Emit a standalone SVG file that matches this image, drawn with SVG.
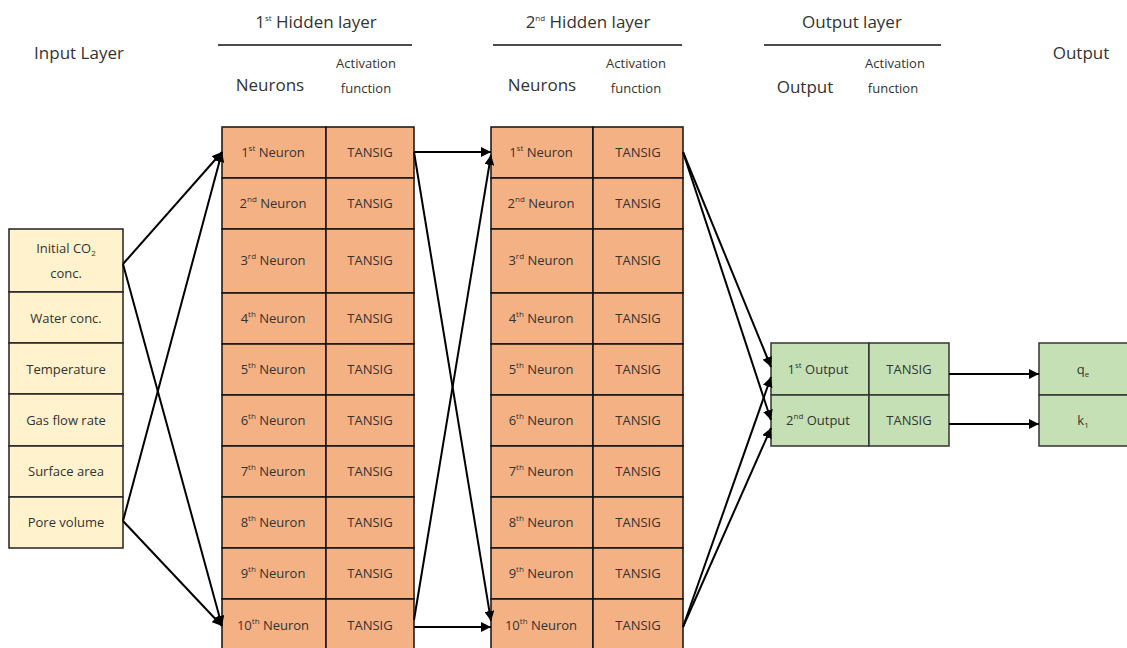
<svg xmlns="http://www.w3.org/2000/svg" width="1127" height="648" viewBox="0 0 1127 648">
<defs>
<marker id="ah" viewBox="0 0 10 10" refX="10" refY="5" markerWidth="10" markerHeight="10" markerUnits="userSpaceOnUse" orient="auto">
<path d="M0,0 L10,5 L0,10 z" fill="#000"/>
</marker>
<style>
text{font-family:"Open Sans","Noto Sans",sans-serif;fill:#333;text-anchor:middle;}
.h{font-size:17px;}
.s{font-size:13px;}
.a{font-size:13px;}
.c{font-size:13px;dominant-baseline:central;}
.sup{font-size:8px;}
.in rect{fill:#FFF2CC;stroke:#222;stroke-width:1.5;}
.hd rect{fill:#F4B183;stroke:#111;stroke-width:1.5;}
.ou rect{fill:#C5E0B4;stroke:#333;stroke-width:1.5;}
.rule{stroke:#111;stroke-width:1.5;}
#connectors line{stroke:#000;stroke-width:2;fill:none;}
.arr{marker-end:url(#ah);}
</style>
</defs>
<rect width="1127" height="648" fill="#fff"/>

<g id="headers">
<text class="h" x="79" y="59">Input Layer</text>
<text class="h" x="316" y="28">1<tspan class="sup" dy="-7">st</tspan><tspan dy="7"> Hidden layer</tspan></text>
<line class="rule" x1="218" y1="45" x2="412" y2="45"/>
<text class="h" x="270" y="91">Neurons</text>
<text class="s" x="366" y="68">Activation</text>
<text class="s" x="366" y="93">function</text>
<text class="h" x="588" y="28">2<tspan class="sup" dy="-7">nd</tspan><tspan dy="7"> Hidden layer</tspan></text>
<line class="rule" x1="493" y1="45" x2="682" y2="45"/>
<text class="h" x="542" y="91">Neurons</text>
<text class="s" x="636" y="68">Activation</text>
<text class="s" x="636" y="93">function</text>
<text class="h" x="852" y="28">Output layer</text>
<line class="rule" x1="764" y1="45" x2="941" y2="45"/>
<text class="h" x="805" y="93">Output</text>
<text class="s" x="895" y="68">Activation</text>
<text class="s" x="893" y="93">function</text>
<text class="h" x="1081" y="59">Output</text>
</g>

<g id="input-layer" class="in">
<rect x="9" y="229" width="114" height="63"/>
<rect x="9" y="292" width="114" height="51"/>
<rect x="9" y="343" width="114" height="51"/>
<rect x="9" y="394" width="114" height="52"/>
<rect x="9" y="446" width="114" height="51"/>
<rect x="9" y="497" width="114" height="51"/>
<text class="c" x="66" y="248">Initial CO<tspan class="sup" dy="4">2</tspan></text>
<text class="c" x="66" y="273">conc.</text>
<text class="c" x="66" y="318">Water conc.</text>
<text class="c" x="66" y="369">Temperature</text>
<text class="c" x="66" y="420">Gas flow rate</text>
<text class="c" x="66" y="471">Surface area</text>
<text class="c" x="66" y="522">Pore volume</text>
</g>

<g id="hidden1" class="hd">
<rect x="222" y="127" width="104" height="51"/><rect x="326" y="127" width="88" height="51"/>
<rect x="222" y="178" width="104" height="51"/><rect x="326" y="178" width="88" height="51"/>
<rect x="222" y="229" width="104" height="64"/><rect x="326" y="229" width="88" height="64"/>
<rect x="222" y="293" width="104" height="51"/><rect x="326" y="293" width="88" height="51"/>
<rect x="222" y="344" width="104" height="51"/><rect x="326" y="344" width="88" height="51"/>
<rect x="222" y="395" width="104" height="51"/><rect x="326" y="395" width="88" height="51"/>
<rect x="222" y="446" width="104" height="51"/><rect x="326" y="446" width="88" height="51"/>
<rect x="222" y="497" width="104" height="51"/><rect x="326" y="497" width="88" height="51"/>
<rect x="222" y="548" width="104" height="51"/><rect x="326" y="548" width="88" height="51"/>
<rect x="222" y="599" width="104" height="52"/><rect x="326" y="599" width="88" height="52"/>
<text class="c" x="273" y="152">1<tspan class="sup" dy="-5">st</tspan><tspan dy="5"> Neuron</tspan></text>
<text class="c" x="273" y="203">2<tspan class="sup" dy="-5">nd</tspan><tspan dy="5"> Neuron</tspan></text>
<text class="c" x="273" y="260">3<tspan class="sup" dy="-5">rd</tspan><tspan dy="5"> Neuron</tspan></text>
<text class="c" x="273" y="318">4<tspan class="sup" dy="-5">th</tspan><tspan dy="5"> Neuron</tspan></text>
<text class="c" x="273" y="369">5<tspan class="sup" dy="-5">th</tspan><tspan dy="5"> Neuron</tspan></text>
<text class="c" x="273" y="420">6<tspan class="sup" dy="-5">th</tspan><tspan dy="5"> Neuron</tspan></text>
<text class="c" x="273" y="471">7<tspan class="sup" dy="-5">th</tspan><tspan dy="5"> Neuron</tspan></text>
<text class="c" x="273" y="522">8<tspan class="sup" dy="-5">th</tspan><tspan dy="5"> Neuron</tspan></text>
<text class="c" x="273" y="573">9<tspan class="sup" dy="-5">th</tspan><tspan dy="5"> Neuron</tspan></text>
<text class="c" x="273" y="625">10<tspan class="sup" dy="-5">th</tspan><tspan dy="5"> Neuron</tspan></text>
<text class="c" x="370" y="152">TANSIG</text>
<text class="c" x="370" y="203">TANSIG</text>
<text class="c" x="370" y="260">TANSIG</text>
<text class="c" x="370" y="318">TANSIG</text>
<text class="c" x="370" y="369">TANSIG</text>
<text class="c" x="370" y="420">TANSIG</text>
<text class="c" x="370" y="471">TANSIG</text>
<text class="c" x="370" y="522">TANSIG</text>
<text class="c" x="370" y="573">TANSIG</text>
<text class="c" x="370" y="625">TANSIG</text>
</g>

<g id="hidden2" class="hd">
<rect x="491" y="127" width="102" height="51"/><rect x="593" y="127" width="90" height="51"/>
<rect x="491" y="178" width="102" height="51"/><rect x="593" y="178" width="90" height="51"/>
<rect x="491" y="229" width="102" height="64"/><rect x="593" y="229" width="90" height="64"/>
<rect x="491" y="293" width="102" height="51"/><rect x="593" y="293" width="90" height="51"/>
<rect x="491" y="344" width="102" height="51"/><rect x="593" y="344" width="90" height="51"/>
<rect x="491" y="395" width="102" height="51"/><rect x="593" y="395" width="90" height="51"/>
<rect x="491" y="446" width="102" height="51"/><rect x="593" y="446" width="90" height="51"/>
<rect x="491" y="497" width="102" height="51"/><rect x="593" y="497" width="90" height="51"/>
<rect x="491" y="548" width="102" height="51"/><rect x="593" y="548" width="90" height="51"/>
<rect x="491" y="599" width="102" height="52"/><rect x="593" y="599" width="90" height="52"/>
<text class="c" x="541" y="152">1<tspan class="sup" dy="-5">st</tspan><tspan dy="5"> Neuron</tspan></text>
<text class="c" x="541" y="203">2<tspan class="sup" dy="-5">nd</tspan><tspan dy="5"> Neuron</tspan></text>
<text class="c" x="541" y="260">3<tspan class="sup" dy="-5">rd</tspan><tspan dy="5"> Neuron</tspan></text>
<text class="c" x="541" y="318">4<tspan class="sup" dy="-5">th</tspan><tspan dy="5"> Neuron</tspan></text>
<text class="c" x="541" y="369">5<tspan class="sup" dy="-5">th</tspan><tspan dy="5"> Neuron</tspan></text>
<text class="c" x="541" y="420">6<tspan class="sup" dy="-5">th</tspan><tspan dy="5"> Neuron</tspan></text>
<text class="c" x="541" y="471">7<tspan class="sup" dy="-5">th</tspan><tspan dy="5"> Neuron</tspan></text>
<text class="c" x="541" y="522">8<tspan class="sup" dy="-5">th</tspan><tspan dy="5"> Neuron</tspan></text>
<text class="c" x="541" y="573">9<tspan class="sup" dy="-5">th</tspan><tspan dy="5"> Neuron</tspan></text>
<text class="c" x="541" y="625">10<tspan class="sup" dy="-5">th</tspan><tspan dy="5"> Neuron</tspan></text>
<text class="c" x="638" y="152">TANSIG</text>
<text class="c" x="638" y="203">TANSIG</text>
<text class="c" x="638" y="260">TANSIG</text>
<text class="c" x="638" y="318">TANSIG</text>
<text class="c" x="638" y="369">TANSIG</text>
<text class="c" x="638" y="420">TANSIG</text>
<text class="c" x="638" y="471">TANSIG</text>
<text class="c" x="638" y="522">TANSIG</text>
<text class="c" x="638" y="573">TANSIG</text>
<text class="c" x="638" y="625">TANSIG</text>
</g>

<g id="output-layer" class="ou">
<rect x="771" y="343" width="98" height="52"/><rect x="869" y="343" width="80" height="52"/>
<rect x="771" y="395" width="98" height="51"/><rect x="869" y="395" width="80" height="51"/>
<text class="c" x="818" y="369">1<tspan class="sup" dy="-5">st</tspan><tspan dy="5"> Output</tspan></text>
<text class="c" x="818" y="420">2<tspan class="sup" dy="-5">nd</tspan><tspan dy="5"> Output</tspan></text>
<text class="c" x="909" y="369">TANSIG</text>
<text class="c" x="909" y="420">TANSIG</text>
</g>

<g id="outputs" class="ou">
<rect x="1039" y="343" width="100" height="52"/>
<rect x="1039" y="395" width="100" height="51"/>
<text class="c" x="1083" y="369">q<tspan class="sup" dy="4">e</tspan></text>
<text class="c" x="1083" y="420">k<tspan class="sup" dy="4">1</tspan></text>
</g>

<g id="connectors">
<line class="arr" x1="123" y1="264" x2="222" y2="152"/>
<line class="arr" x1="123" y1="264" x2="222" y2="626"/>
<line class="arr" x1="123" y1="521" x2="222" y2="152"/>
<line class="arr" x1="123" y1="521" x2="222" y2="626"/>
<line class="arr" x1="414" y1="152" x2="491" y2="152"/>
<line class="arr" x1="414" y1="152" x2="491" y2="621"/>
<line class="arr" x1="414" y1="620" x2="491" y2="155"/>
<line class="arr" x1="414" y1="627" x2="491" y2="627"/>
<line class="arr" x1="683" y1="152" x2="771" y2="367"/>
<line class="arr" x1="683" y1="152" x2="771" y2="420"/>
<line class="arr" x1="683" y1="627" x2="771" y2="377"/>
<line class="arr" x1="683" y1="627" x2="771" y2="428"/>
<line class="arr" x1="949" y1="374" x2="1039" y2="374"/>
<line class="arr" x1="949" y1="424" x2="1039" y2="424"/>
</g>
</svg>
